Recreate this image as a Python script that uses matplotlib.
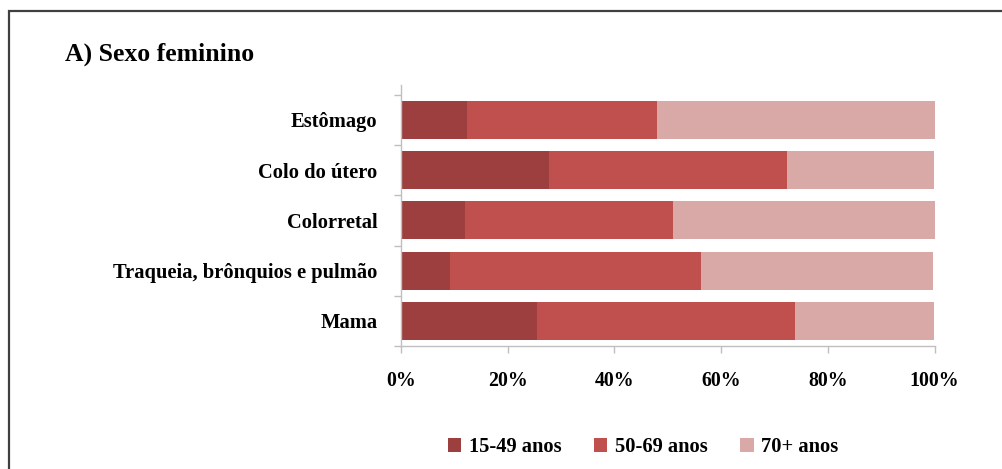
import matplotlib
matplotlib.use("Agg")
import matplotlib.pyplot as plt
from matplotlib.patches import Rectangle
from matplotlib.ticker import FixedLocator, PercentFormatter
import numpy as np

categories = ["Mama", "Traqueia, brônquios e pulmão", "Colorretal", "Colo do útero", "Estômago"]
series_names = ["15-49 anos", "50-69 anos", "70+ anos"]
age_15_49 = [25.4, 9.2, 12.0, 27.7, 12.4]
age_50_69 = [48.5, 47.1, 39.0, 44.7, 35.6]
age_70_plus = [26.1, 43.5, 49.0, 27.6, 52.0]
xticks = [0, 20, 40, 60, 80, 100]

colors = ["#9c3f3e", "#c0504d", "#d9a9a8"]

plt.rcParams['font.family'] = ['Liberation Serif', 'DejaVu Serif']
plt.rcParams['font.weight'] = 'bold'

fig = plt.figure(figsize=(10.03, 4.69), dpi=100)
ax = fig.add_axes([401/1003, 1 - 346/469, (934.5 - 401)/1003, (346 - 84.7)/469])

y = np.arange(len(categories))
left = np.zeros(len(categories))
for name, vals, c in zip(series_names, [age_15_49, age_50_69, age_70_plus], colors):
    ax.barh(y, vals, left=left, height=0.755, color=c, label=name, zorder=2)
    left = left + np.array(vals)

ax.set_xlim(0, 100)
ax.set_ylim(-0.5, 4.70)
ax.set_yticks(y)
ax.set_yticklabels(categories, fontsize=14.8, fontweight='bold')
ax.yaxis.set_minor_locator(FixedLocator(np.arange(-0.5, 5.0, 1.0)))
ax.tick_params(axis='y', which='major', length=0, pad=17)
ax.tick_params(axis='y', which='minor', length=5.2, width=1, color='#bfbfbf')
ax.set_xticks(xticks)
ax.xaxis.set_major_formatter(PercentFormatter(decimals=0))
ax.tick_params(axis='x', length=5.2, width=1, color='#bfbfbf', pad=13, labelsize=14.3)
for lab in ax.get_xticklabels():
    lab.set_fontweight('bold')

for s in ['top', 'right']:
    ax.spines[s].set_visible(False)
for s in ['left', 'bottom']:
    ax.spines[s].set_color('#bfbfbf')
    ax.spines[s].set_linewidth(1)

fig.text(65/1003, 1 - 54/469, "A) Sexo feminino", fontsize=18.5, fontweight='bold', va='center', ha='left')

leg = fig.legend(loc='center', bbox_to_anchor=(643/1003, 1 - 447/469), ncol=3, frameon=False,
                 fontsize=14.8, handlelength=0.65, handleheight=0.65, handletextpad=0.35,
                 columnspacing=1.6)
for t in leg.get_texts():
    t.set_fontweight('bold')

fig.add_artist(Rectangle((9/1003, -0.1), 1.2, 1.1 - 11/469, transform=fig.transFigure,
                         fill=False, edgecolor='#404040', linewidth=1.6, clip_on=False))

fig.savefig("out.png", dpi=100)
